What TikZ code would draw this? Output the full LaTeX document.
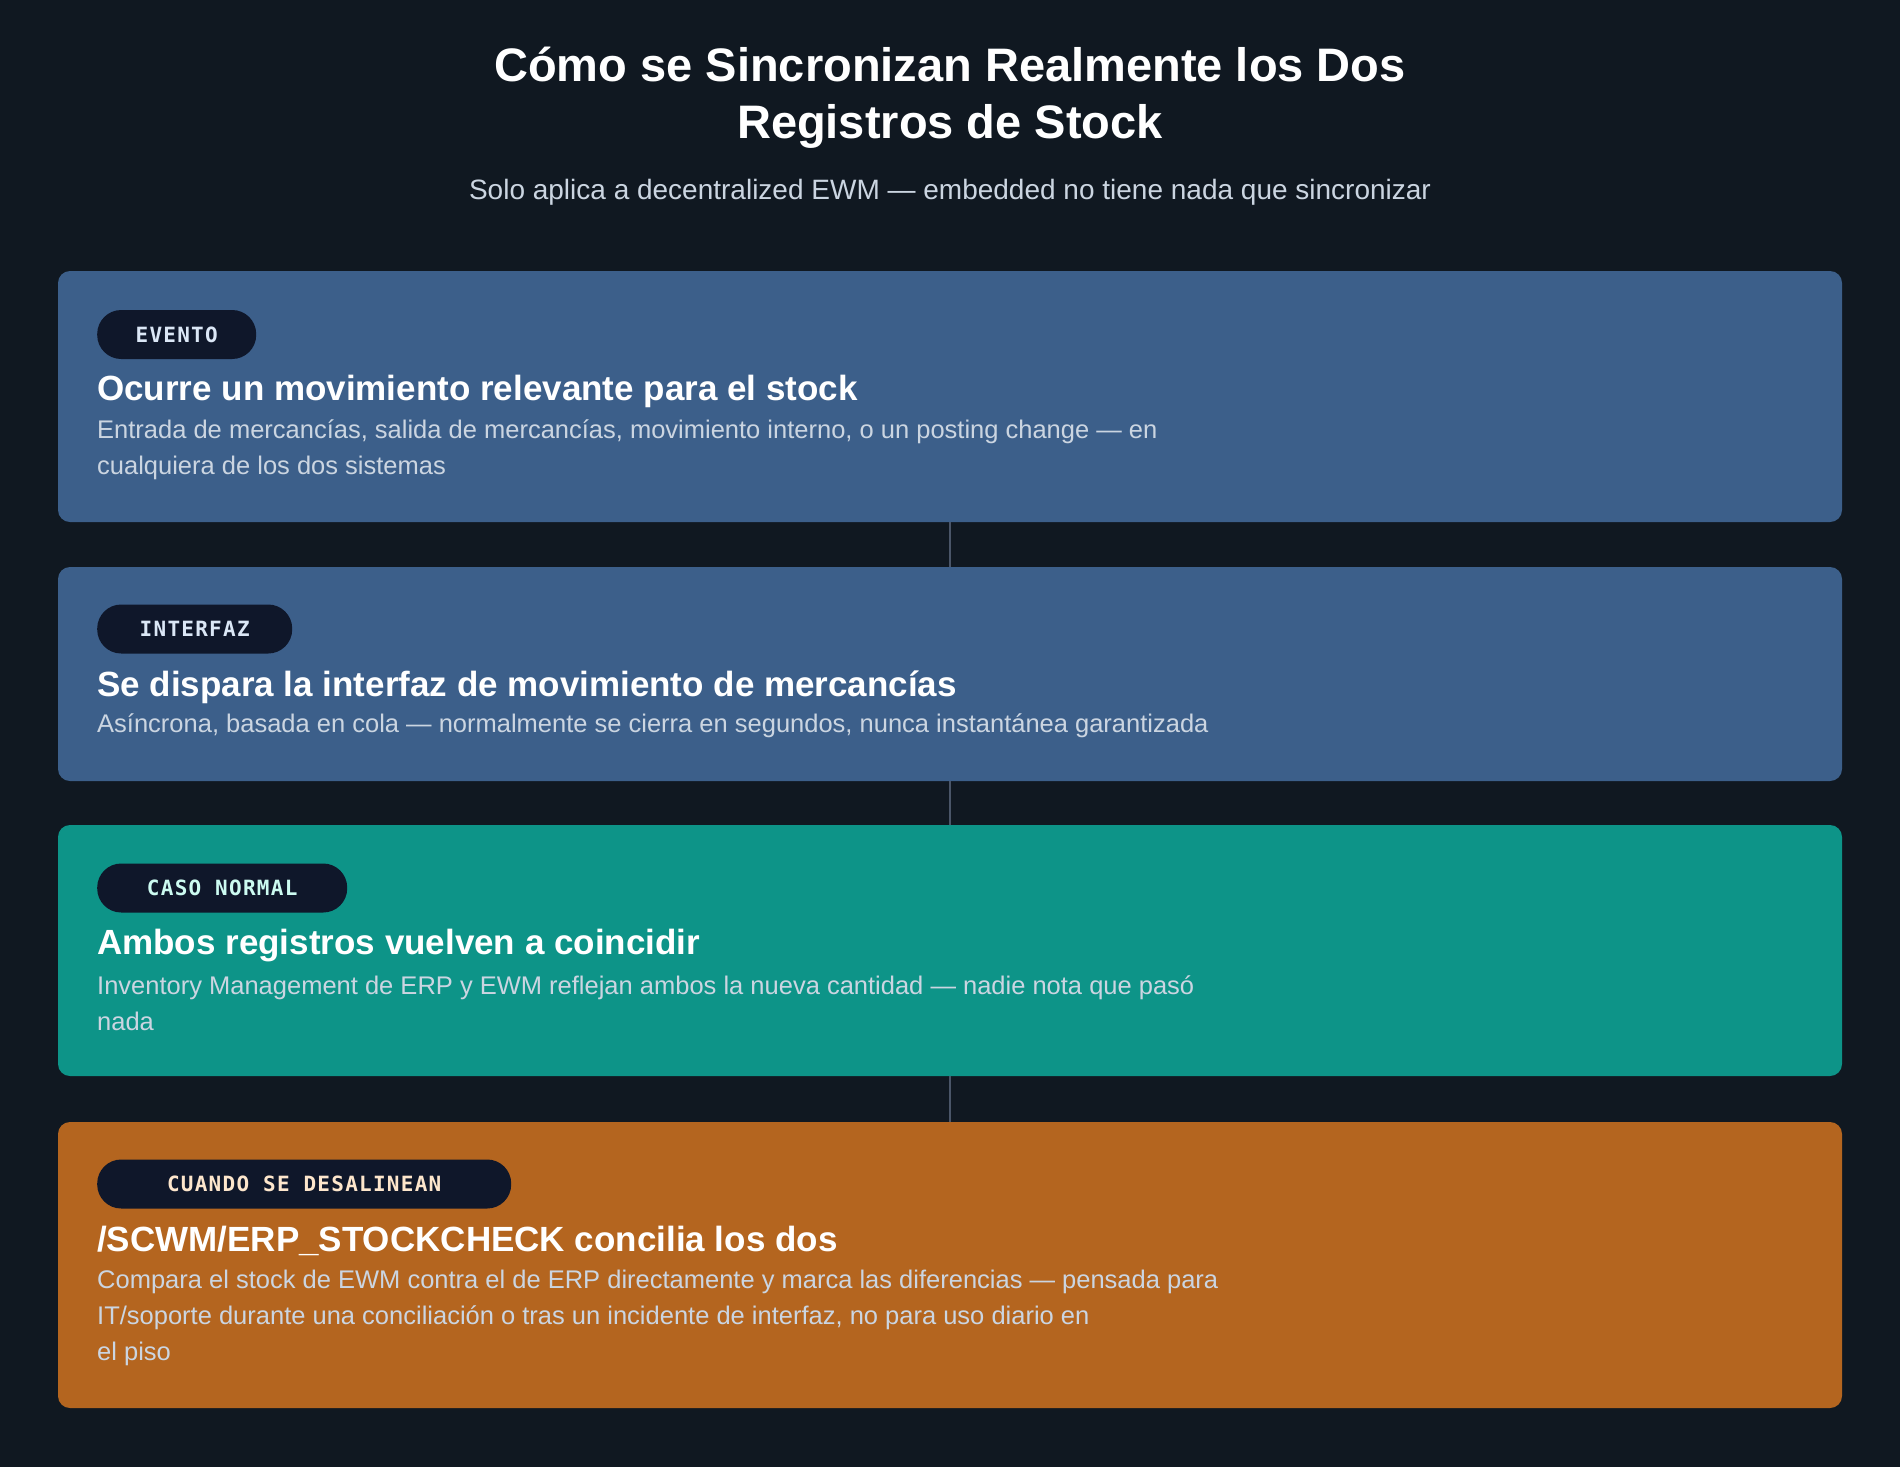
\documentclass[tikz,border=0pt]{standalone}
\usepackage{fontspec}
\setmainfont{Liberation Sans}
\newfontfamily\pillfont[LetterSpace=6]{DejaVu Sans Mono}
\usetikzlibrary{positioning}
\definecolor{bgdark}{HTML}{101821}
\definecolor{stepblue}{HTML}{3C5F8A}
\definecolor{stepteal}{HTML}{0D9488}
\definecolor{steporange}{HTML}{B4651F}
\definecolor{pillnavy}{HTML}{0F172A}
\definecolor{desctext}{HTML}{CBD5E1}
\definecolor{linkgray}{HTML}{4A5568}
\definecolor{pillblue}{HTML}{DBE7F6}
\definecolor{pillteal}{HTML}{CCFBF1}
\definecolor{pillpeach}{HTML}{FDE6CC}
\tikzset{
card/.style={
  rectangle,
  rounded corners=12pt,
  minimum width=1784pt,
  inner sep=0pt
  },
pill/.style={
  rectangle,
  rounded corners=24pt,
  fill=pillnavy,
  minimum height=49pt,
  inner sep=0pt,
  anchor=west,
  font=\pillfont\bfseries\fontsize{21}{25}\selectfont
  },
head/.style={anchor=west, text=white, inner sep=0pt, font=\bfseries\fontsize{35}{40}\selectfont},
desc/.style={anchor=west, text=desctext, inner sep=0pt, align=left, font=\fontsize{25.5}{36}\selectfont},
link/.style={draw=linkgray, line width=2pt}
}
\begin{document}
\begin{tikzpicture}[x=1pt, y=-1pt]
\fill[bgdark] (0,0) rectangle (1900,1467);
\useasboundingbox (0,0) rectangle (1900,1467);

\node[text=white, font=\bfseries\fontsize{47}{57}\selectfont, align=center]	(title)	at (950,98)	{Cómo se Sincronizan Realmente los Dos\\Registros de Stock};
\node[text=desctext, font=\fontsize{28}{32}\selectfont]	(subtitle)	at (950,192)	{Solo aplica a decentralized EWM — embedded no tiene nada que sincronizar};

\node[card, fill=stepblue, minimum height=251pt]	(evento)	at (950,396.5)	{};
\node[card, fill=stepblue, minimum height=214pt]	(interfaz)	at (950,674)	{};
\node[card, fill=stepteal, minimum height=251pt]	(normal)	at (950,950.5)	{};
\node[card, fill=steporange, minimum height=286pt]	(desalin)	at (950,1265)	{};

\draw[link]	(evento.south)	--	(interfaz.north);
\draw[link]	(interfaz.south)	--	(normal.north);
\draw[link]	(normal.south)	--	(desalin.north);

\node[pill, text=pillblue, minimum width=159pt]	(pillevento)	at (97,334.5)	{EVENTO};
\node[pill, text=pillblue, minimum width=195pt]	(pillinterfaz)	at (97,629)	{INTERFAZ};
\node[pill, text=pillteal, minimum width=250pt]	(pillnormal)	at (97,888)	{CASO NORMAL};
\node[pill, text=pillpeach, minimum width=414pt]	(pilldesalin)	at (97,1184)	{CUANDO SE DESALINEAN};

\node[head]	(headevento)	at (97,391.5)	{Ocurre un movimiento relevante para el stock};
\node[desc]	(descevento)	at (97,449.5)	{Entrada de mercancías, salida de mercancías, movimiento interno, o un posting change — en\\cualquiera de los dos sistemas};

\node[head]	(headinterfaz)	at (97,687.5)	{Se dispara la interfaz de movimiento de mercancías};
\node[desc]	(descinterfaz)	at (97,725.5)	{Asíncrona, basada en cola — normalmente se cierra en segundos, nunca instantánea garantizada};

\node[head]	(headnormal)	at (97,945.5)	{Ambos registros vuelven a coincidir};
\node[desc]	(descnormal)	at (97,1003.5)	{Inventory Management de ERP y EWM reflejan ambos la nueva cantidad — nadie nota que pasó\\nada};

\node[head]	(headdesalin)	at (97,1240.5)	{/SCWM/ERP\_STOCKCHECK concilia los dos};
\node[desc]	(descdesalin)	at (97,1317.5)	{Compara el stock de EWM contra el de ERP directamente y marca las diferencias — pensada para\\IT/soporte durante una conciliación o tras un incidente de interfaz, no para uso diario en\\el piso};
\end{tikzpicture}
\end{document}
